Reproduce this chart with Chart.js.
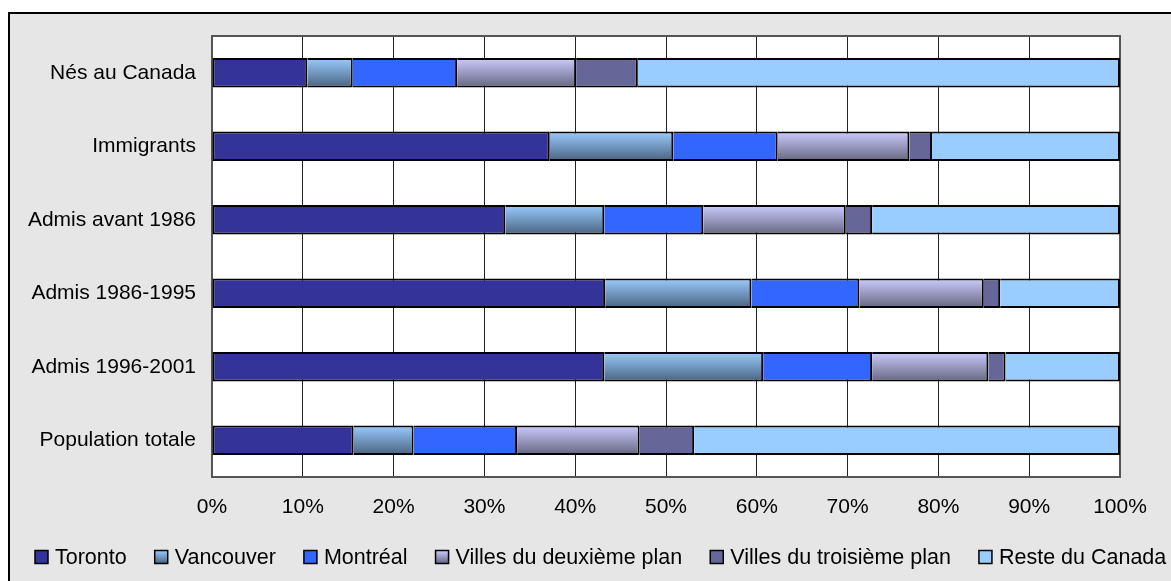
<!DOCTYPE html>
<html>
<head>
<meta charset="utf-8">
<script src="https://cdn.jsdelivr.net/npm/chart.js@4/dist/chart.umd.min.js"></script>
<style>
  html, body { margin: 0; padding: 0; background: #fff; }
  #wrap { width: 1171px; height: 581px; }
</style>
</head>
<body>
<div id="wrap"><canvas id="chart" width="1171" height="581"></canvas></div>
<script>
// categories, top to bottom
const categories = ['Nés au Canada', 'Immigrants', 'Admis avant 1986', 'Admis 1986-1995', 'Admis 1996-2001', 'Population totale'];

// share of each group by place of residence (%)
const toronto   = [10.5, 37.2, 32.3, 43.3, 43.2, 15.6];
const vancouver = [5.0, 13.6, 10.9, 16.1, 17.5, 6.6];
const montreal  = [11.5, 11.5, 10.9, 11.9, 12.0, 11.4];
const villes2   = [13.1, 14.5, 15.7, 13.7, 12.8, 13.5];
const villes3   = [6.8, 2.5, 2.9, 1.8, 1.9, 6.0];
const reste     = [53.1, 20.7, 27.3, 13.2, 12.6, 46.9];

const xTicks = [0, 10, 20, 30, 40, 50, 60, 70, 80, 90, 100];

const FONT = '"Liberation Sans", Arial, sans-serif';
const FONT_SIZE = 21;
const CAT_PCT = 0.4;

// vertical gradient fill, one per bar
function barFill(top, bottom) {
  if (!bottom) return top;
  return (c) => {
    const chart = c.chart;
    const y = chart.scales.y;
    if (!chart.chartArea || !y || c.dataIndex === undefined) return top;
    const mid = y.getPixelForValue(c.dataIndex);
    const half = (y.height / categories.length) * CAT_PCT / 2;
    const g = chart.ctx.createLinearGradient(0, mid - half, 0, mid + half);
    g.addColorStop(0, top);
    g.addColorStop(1, bottom);
    return g;
  };
}

const series = [
  { label: 'Toronto', data: toronto, top: '#333399' },
  { label: 'Vancouver', data: vancouver, top: '#99ccff', bottom: '#4a6380' },
  { label: 'Montréal', data: montreal, top: '#3366ff' },
  { label: 'Villes du deuxième plan', data: villes2, top: '#ccccff', bottom: '#666680' },
  { label: 'Villes du troisième plan', data: villes3, top: '#666699' },
  { label: 'Reste du Canada', data: reste, top: '#99ccff' },
];

const frame = {
  id: 'frame',
  beforeDraw(chart) {
    const ctx = chart.ctx;
    const a = chart.chartArea;
    ctx.save();
    ctx.fillStyle = '#e6e6e6';
    ctx.fillRect(8, 12, chart.width, chart.height);
    ctx.strokeStyle = '#000';
    ctx.lineWidth = 2;
    ctx.beginPath();
    ctx.moveTo(9, chart.height + 2);
    ctx.lineTo(9, 13);
    ctx.lineTo(chart.width + 2, 13);
    ctx.stroke();
    ctx.fillStyle = '#fff';
    ctx.fillRect(a.left, a.top, a.right - a.left, a.bottom - a.top);
    ctx.restore();
  },
  beforeDatasetsDraw(chart) {
    const ctx = chart.ctx;
    const a = chart.chartArea;
    ctx.save();
    ctx.strokeStyle = '#555';
    ctx.lineWidth = 2;
    ctx.strokeRect(a.left, a.top, a.right - a.left, a.bottom - a.top);
    ctx.restore();
  },
  afterDraw(chart) {
    // legend along the bottom
    const ctx = chart.ctx;
    ctx.save();
    ctx.font = '21.5px ' + FONT;
    ctx.textBaseline = 'middle';
    let x = 35;
    const cy = 557;
    const box = 13;
    series.forEach((s) => {
      let fill = s.top;
      if (s.bottom) {
        fill = ctx.createLinearGradient(0, cy - box / 2, 0, cy + box / 2);
        fill.addColorStop(0, s.top);
        fill.addColorStop(1, s.bottom);
      }
      ctx.fillStyle = fill;
      ctx.fillRect(x, cy - box / 2, box, box);
      ctx.strokeStyle = '#000';
      ctx.lineWidth = 1.5;
      ctx.strokeRect(x, cy - box / 2, box, box);
      ctx.fillStyle = '#000';
      ctx.fillText(s.label, x + box + 7, cy + 1);
      x += box + 7 + ctx.measureText(s.label).width + 28;
    });
    ctx.restore();
  }
};

new Chart(document.getElementById('chart'), {
  type: 'bar',
  data: {
    labels: categories,
    datasets: series.map((s, i) => ({
      label: s.label,
      data: s.data,
      backgroundColor: barFill(s.top, s.bottom),
      borderColor: '#000',
      borderWidth: 2,
      borderSkipped: i === 0 ? false : 'start',
      categoryPercentage: CAT_PCT,
      barPercentage: 1,
    })),
  },
  options: {
    indexAxis: 'y',
    responsive: false,
    animation: false,
    devicePixelRatio: 1,
    layout: { padding: { top: 36, left: 0, right: 0, bottom: 0 } },
    plugins: {
      legend: { display: false },
      tooltip: { enabled: false },
    },
    scales: {
      x: {
        stacked: true,
        min: 0,
        max: 100,
        afterBuildTicks: (s) => { s.ticks = xTicks.map((v) => ({ value: v })); },
        afterFit: (s) => { s.height = 104; s.paddingRight = 51; s.paddingLeft = 0; },
        grid: { color: '#222', lineWidth: 1, drawTicks: false },
        border: { display: false },
        ticks: {
          color: '#000',
          font: { family: FONT, size: FONT_SIZE },
          padding: 18,
          maxRotation: 0,
          callback: (v) => v + '%',
        },
      },
      y: {
        stacked: true,
        afterFit: (s) => { s.width = 212; s.paddingTop = 0; s.paddingBottom = 0; },
        grid: { display: false, drawTicks: false },
        border: { display: false },
        ticks: {
          color: '#000',
          font: { family: FONT, size: FONT_SIZE },
          padding: 16,
        },
      },
    },
  },
  plugins: [frame],
});
</script>
</body>
</html>
